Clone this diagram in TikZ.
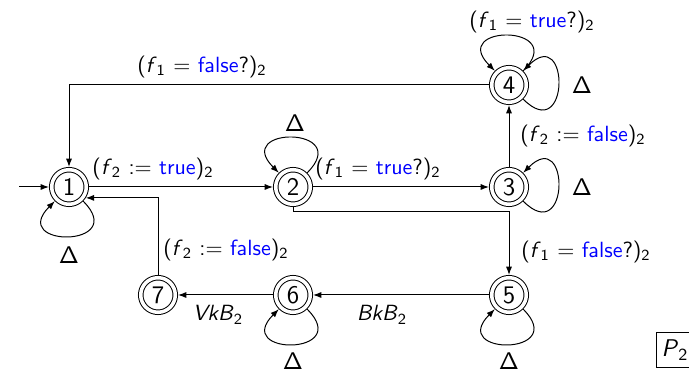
\documentclass[tikz,border=0pt]{standalone}
\usetikzlibrary{arrows.meta}
\tikzset{
  st/.style={circle, draw, double, double distance=1.6pt, line width=0.45pt, minimum size=15.7pt, inner sep=0pt, outer sep=1.25pt, font=\sffamily\fontsize{11.5}{13}\selectfont},
  arr/.style={-{Latex[length=3.8pt,width=2.8pt]}, line width=0.45pt},
  ln/.style={line width=0.45pt},
  lbl/.style={inner sep=0pt},
  dlt/.style={inner sep=0pt, font=\sffamily\fontsize{11}{13}\selectfont},
  every node/.style={font=\sffamily},
}
\newcommand{\tv}{\textcolor{blue}{true}}
\newcommand{\fv}{\textcolor{blue}{false}}
\newcommand{\sbs}[1]{\textsubscript{#1}}
\newcommand{\vf}[1]{\textit{f}\sbs{#1}}
\newcommand{\dl}{$\mathsf{\Delta}$}
\begin{document}
\begin{tikzpicture}[x=0.4545pt,y=-0.4545pt]
\useasboundingbox (0,0) rectangle (689,373);
% states
\node[st] (n1) at (69,187) {1};
\node[st] (n2) at (293,187) {2};
\node[st] (n3) at (509,187) {3};
\node[st] (n4) at (509,85) {4};
\node[st] (n5) at (509,295) {5};
\node[st] (n6) at (293,295) {6};
\node[st] (n7) at (158,295) {7};
\coordinate (s) at (19,187);
\coordinate (c25) at (293,212);
% edges
\draw[arr] (s) -- (n1);
\draw[arr] (n1) -- (n2);
\draw[arr] (n2) -- (n3);
\draw[arr] (n3) -- (n4);
\draw[arr] (n4) -| (n1);
\draw[arr] (n2.south) -- (c25) -| (n5);
\draw[arr] (n5) -- (n6);
\draw[arr] (n6) -- (n7);
\draw[arr] (n7) |- (n1.-33);
% loops
\draw[arr] (n1) to[out=-45,in=-135,looseness=6] (n1);
\draw[arr] (n2) to[out=45,in=135,looseness=6] (n2);
\draw[arr] (n3) to[out=-45,in=45,looseness=6] (n3);
\draw[arr] (n4) to[out=45,in=135,looseness=6] (n4);
\draw[arr] (n4) to[out=-45,in=45,looseness=6] (n4);
\draw[arr] (n5) to[out=-45,in=-135,looseness=6] (n5);
\draw[arr] (n6) to[out=-45,in=-135,looseness=6] (n6);
% labels
\node[lbl] (l12) at (153,169) {(\vf{2} := \tv)\sbs{2}};
\node[lbl] (l23) at (378,169) {(\vf{1} = \tv?)\sbs{2}};
\node[lbl] (l34) at (583,136) {(\vf{2} := \fv)\sbs{2}};
\node[lbl] (l44) at (532,22) {(\vf{1} = \tv?)\sbs{2}};
\node[lbl] (l41) at (202,67) {(\vf{1} = \fv?)\sbs{2}};
\node[lbl] (l25) at (586,252) {(\vf{1} = \fv?)\sbs{2}};
\node[lbl] (l71) at (226,250) {(\vf{2} := \fv)\sbs{2}};
\node[lbl] (l56) at (382,315) {\textit{BkB}\sbs{2}};
\node[lbl] (l67) at (218,315) {\textit{VkB}\sbs{2}};
\node[dlt] (d1) at (69,255) {\dl};
\node[dlt] (d2) at (295,123) {\dl};
\node[dlt] (d3) at (582,187) {\dl};
\node[dlt] (d4) at (582,85) {\dl};
\node[dlt] (d5) at (509,361) {\dl};
\node[dlt] (d6) at (293,361) {\dl};
\node[draw, ln, minimum width=16.8pt, minimum height=15.5pt, inner sep=0pt, font=\sffamily\fontsize{11}{13}\selectfont] (p2) at (675,350) {\textit{P}\sbs{2}};
\end{tikzpicture}
\end{document}
